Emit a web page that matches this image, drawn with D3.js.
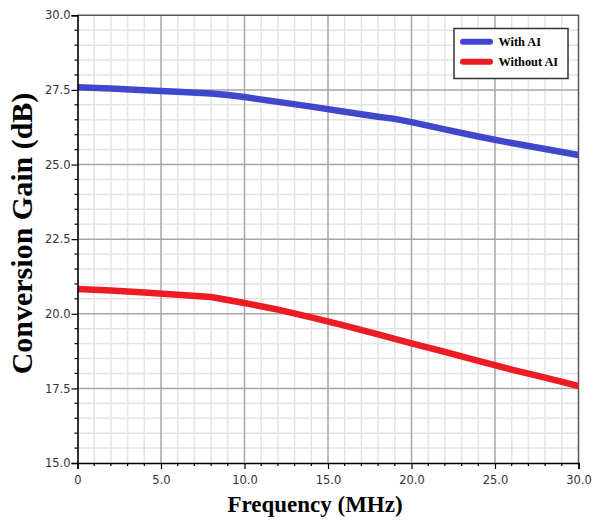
<!DOCTYPE html>
<html>
<head>
<meta charset="utf-8">
<script src="https://cdn.jsdelivr.net/npm/d3@7"></script>
<style>
  html, body { margin: 0; padding: 0; background: #fff; }
  svg { display: block; }
</style>
</head>
<body>
<svg id="chart" width="593" height="520"></svg>
<script>
// Conversion gain vs. frequency, with and without AI
const freqMHz      = [0, 2, 4, 6, 8, 9, 10, 12, 14, 16, 18, 19, 20, 22, 24, 26, 28, 30];
const gainWithAI   = [27.59, 27.55, 27.49, 27.44, 27.38, 27.33, 27.26, 27.10, 26.94, 26.77, 26.60, 26.53, 26.42, 26.18, 25.94, 25.72, 25.52, 25.32];
const gainWithout  = [20.83, 20.78, 20.71, 20.64, 20.56, 20.46, 20.36, 20.14, 19.88, 19.60, 19.31, 19.16, 19.01, 18.72, 18.42, 18.13, 17.86, 17.58];

const seriesNames  = ["With AI", "Without AI"];
const seriesColors = ["#3f48cc", "#ed1c24"];

const xTickValues  = [0, 5, 10, 15, 20, 25, 30];
const xTickLabels  = ["0", "5.0", "10.0", "15.0", "20.0", "25.0", "30.0"];
const yTickValues  = [15, 17.5, 20, 22.5, 25, 27.5, 30];
const yTickLabels  = ["15.0", "17.5", "20.0", "22.5", "25.0", "27.5", "30.0"];

const xTitle = "Frequency (MHz)";
const yTitle = "Conversion Gain (dB)";

(function draw() {
  const svg = d3.select("#chart");
  const pL = 77.5, pR = 578.5, pT = 15.3, pB = 463;

  const x = d3.scaleLinear().domain([0, 30]).range([pL, pR]);
  const y = d3.scaleLinear().domain([15, 30]).range([pB, pT]);

  // minor grid
  const minorX = d3.range(0, 30.001, 1).filter(v => v % 5 !== 0);
  const minorY = d3.range(15, 30.001, 0.5).filter(v => Math.abs((v / 2.5) - Math.round(v / 2.5)) > 1e-6);
  const grid = svg.append("g");
  grid.append("g").selectAll("line").data(minorX).join("line")
    .attr("x1", d => x(d)).attr("x2", d => x(d)).attr("y1", pT).attr("y2", pB)
    .attr("stroke", "#e4e4e4").attr("stroke-width", 1.5);
  grid.append("g").selectAll("line").data(minorY).join("line")
    .attr("y1", d => y(d)).attr("y2", d => y(d)).attr("x1", pL).attr("x2", pR)
    .attr("stroke", "#e4e4e4").attr("stroke-width", 1.5);
  // major grid
  grid.append("g").selectAll("line").data(xTickValues.slice(1, -1)).join("line")
    .attr("x1", d => x(d)).attr("x2", d => x(d)).attr("y1", pT).attr("y2", pB)
    .attr("stroke", "#a6a6a6").attr("stroke-width", 1.5);
  grid.append("g").selectAll("line").data(yTickValues.slice(1, -1)).join("line")
    .attr("y1", d => y(d)).attr("y2", d => y(d)).attr("x1", pL).attr("x2", pR)
    .attr("stroke", "#a6a6a6").attr("stroke-width", 1.5);

  // top and right frame
  svg.append("path")
    .attr("d", `M${pL},${pT}H${pR}V${pB}`)
    .attr("fill", "none").attr("stroke", "#555").attr("stroke-width", 1.5);

  // series lines
  svg.append("clipPath").attr("id", "plotclip").append("rect")
    .attr("x", pL).attr("y", pT).attr("width", pR - pL).attr("height", pB - pT);
  const line = d3.line().x(d => x(d[0])).y(d => y(d[1]));
  [gainWithAI, gainWithout].forEach((vals, i) => {
    svg.append("path")
      .datum(freqMHz.map((f, k) => [f, vals[k]]))
      .attr("clip-path", "url(#plotclip)")
      .attr("d", line)
      .attr("fill", "none")
      .attr("stroke", seriesColors[i])
      .attr("stroke-width", 6.5)
      .attr("stroke-linejoin", "round");
  });

  // axes
  const labelFont = "'DejaVu Sans', Verdana, sans-serif";
  const xAxis = svg.append("g").attr("transform", `translate(0,${pB})`)
    .call(d3.axisBottom(x).tickValues(xTickValues).tickFormat((d, i) => xTickLabels[i]).tickSize(6).tickPadding(7));
  xAxis.append("g").selectAll("line").data(minorX).join("line")
    .attr("x1", d => x(d)).attr("x2", d => x(d)).attr("y1", 0).attr("y2", 3)
    .attr("stroke", "#000").attr("stroke-width", 1.2);

  const yAxis = svg.append("g").attr("transform", `translate(${pL},0)`)
    .call(d3.axisLeft(y).tickValues(yTickValues).tickFormat((d, i) => yTickLabels[i]).tickSize(6).tickPadding(1));
  yAxis.append("g").selectAll("line").data(minorY).join("line")
    .attr("y1", d => y(d)).attr("y2", d => y(d)).attr("x1", 0).attr("x2", -3)
    .attr("stroke", "#000").attr("stroke-width", 1.2);

  [xAxis, yAxis].forEach(g => {
    g.select(".domain").attr("stroke", "#000").attr("stroke-width", 1.6);
    g.selectAll(".tick line").attr("stroke", "#000").attr("stroke-width", 1.2);
    g.selectAll(".tick text").attr("font-family", labelFont).attr("font-size", 11.5).attr("fill", "#333");
  });

  // axis titles
  const titleFont = "'Liberation Serif', 'Times New Roman', serif";
  svg.append("text")
    .attr("x", 315).attr("y", 512)
    .attr("text-anchor", "middle")
    .attr("font-family", titleFont).attr("font-weight", "bold").attr("font-size", 23)
    .attr("fill", "#000")
    .text(xTitle);
  svg.append("text")
    .attr("transform", "translate(31.5,233.5) rotate(-90)")
    .attr("text-anchor", "middle")
    .attr("font-family", titleFont).attr("font-weight", "bold").attr("font-size", 30)
    .attr("fill", "#000")
    .text(yTitle);

  // legend
  const legend = svg.append("g");
  legend.append("rect")
    .attr("x", 454).attr("y", 28.5).attr("width", 114).attr("height", 50)
    .attr("fill", "#fff").attr("stroke", "#333").attr("stroke-width", 1.5);
  seriesNames.forEach((name, i) => {
    const cy = 41.7 + i * 20;
    legend.append("line")
      .attr("x1", 463).attr("x2", 490).attr("y1", cy).attr("y2", cy)
      .attr("stroke", seriesColors[i]).attr("stroke-width", 6).attr("stroke-linecap", "round");
    legend.append("text")
      .attr("x", 498.5).attr("y", cy + 4.3)
      .attr("font-family", titleFont).attr("font-weight", "bold").attr("font-size", 12.3)
      .attr("fill", "#000")
      .text(name);
  });
})();
</script>
</body>
</html>
